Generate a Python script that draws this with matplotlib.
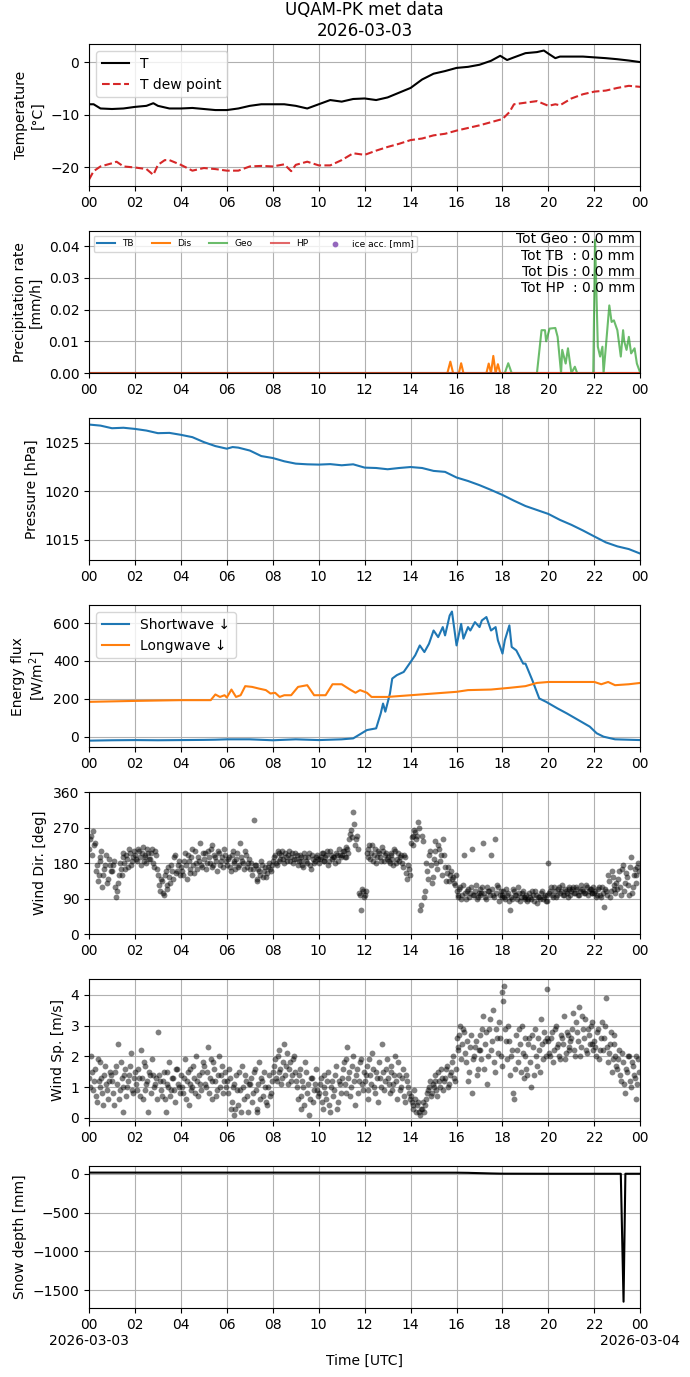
import numpy as np
import pandas as pd
import matplotlib
matplotlib.use("Agg")
import matplotlib.pyplot as plt
import matplotlib.dates as mdates

day = pd.Timestamp("2026-03-03")

# temperature (hours, degC)
t_hours = [0, 0.2, 0.5, 1, 1.5, 2, 2.5, 2.8, 3, 3.5, 4, 4.5, 5, 5.5, 6, 6.5, 7, 7.5, 8, 8.5,
           9, 9.5, 10, 10.5, 11, 11.5, 12, 12.5, 13, 13.5, 14, 14.5, 15, 15.5, 16, 16.5, 17,
           17.5, 17.9, 18.2, 18.5, 19, 19.5, 19.8, 20, 20.3, 20.5, 21, 21.5, 22, 22.5, 23, 23.5, 24]
temp = [-8.0, -8.0, -8.8, -8.9, -8.8, -8.5, -8.3, -7.8, -8.3, -8.8, -8.8, -8.7, -8.9, -9.1,
        -9.1, -8.8, -8.3, -8.0, -8.0, -8.0, -8.3, -8.8, -8.0, -7.2, -7.5, -7.0, -6.9, -7.2,
        -6.7, -5.8, -4.9, -3.3, -2.2, -1.7, -1.1, -0.9, -0.5, 0.25, 1.2, 0.4, 0.9, 1.7, 1.9,
        2.2, 1.6, 0.75, 1.05, 1.05, 1.05, 0.9, 0.75, 0.55, 0.3, 0.0]

td_hours = [0, 0.2, 0.5, 1, 1.2, 1.5, 2, 2.5, 2.8, 3, 3.3, 3.5, 4, 4.5, 5, 5.5, 6, 6.5, 7, 7.5,
            8, 8.5, 8.8, 9, 9.5, 10, 10.5, 11, 11.5, 12, 12.5, 13, 13.5, 14, 14.5, 15, 15.5, 16,
            16.5, 17, 17.5, 18, 18.3, 18.5, 19, 19.5, 20, 20.3, 20.5, 21, 21.5, 22, 22.5, 23, 23.5, 24]
tdew = [-22.3, -20.7, -19.8, -19.2, -18.9, -19.8, -20.0, -20.3, -21.4, -19.5, -18.6, -18.6,
        -19.5, -20.6, -20.1, -20.3, -20.6, -20.6, -19.8, -19.7, -19.8, -19.4, -20.7, -19.5,
        -18.9, -19.6, -19.6, -18.6, -17.3, -17.6, -16.8, -16.1, -15.5, -14.8, -14.5, -13.9,
        -13.6, -13.0, -12.5, -12.0, -11.4, -10.8, -9.5, -8.0, -7.7, -7.4, -8.3, -8.0, -8.2,
        -6.9, -6.1, -5.6, -5.4, -4.9, -4.5, -4.7]

# precipitation rate (mm/h)
geo_hours = [0, 18.1, 18.25, 18.4, 19.5, 19.7, 19.85, 19.9, 20.05, 20.3, 20.4, 20.55, 20.6, 20.75,
             20.85, 21.0, 21.15, 21.25, 21.35, 21.95, 22.03, 22.15, 22.25, 22.35, 22.4, 22.5,
             22.65, 22.75, 22.85, 23.0, 23.15, 23.25, 23.3, 23.4, 23.5, 23.6, 23.75, 23.85, 24]
geo = [0, 0, 0.0031, 0, 0, 0.0135, 0.0135, 0.010, 0.014, 0.0142, 0.0114, 0, 0.0073, 0.003,
       0.0078, 0, 0.002, 0, 0, 0, 0.042, 0.0083, 0.0052, 0.0083, 0, 0.0083, 0.0213, 0.0161,
       0.0166, 0.0135, 0.0052, 0.0135, 0.010, 0.0073, 0.0114, 0.0062, 0.0078, 0.003, 0]
dis_hours = [0, 15.6, 15.73, 15.85, 16.1, 16.2, 16.3, 17.3, 17.4, 17.5, 17.6, 17.7, 17.8, 17.9, 24]
dis = [0, 0, 0.0036, 0, 0, 0.0031, 0, 0, 0.003, 0, 0.0054, 0, 0.0028, 0, 0]
tb_hours = [0, 24]
tb = [0, 0]
hp_hours = [0, 24]
hp = [0, 0]
ice_hours = []
ice = []
totals = {"Geo": 0.0, "TB ": 0.0, "Dis": 0.0, "HP ": 0.0}

# pressure (hPa)
p_hours = [0, 0.5, 1, 1.5, 2, 2.5, 3, 3.5, 4, 4.5, 5, 5.5, 6, 6.25, 6.5, 7, 7.5, 8, 8.5, 9, 9.5,
           10, 10.5, 11, 11.5, 12, 12.5, 13, 13.5, 14, 14.5, 15, 15.5, 16, 16.5, 17, 17.5, 18,
           18.5, 19, 19.5, 20, 20.5, 21, 21.5, 22, 22.5, 23, 23.5, 24]
pres = [1026.88, 1026.77, 1026.5, 1026.55, 1026.43, 1026.26, 1025.99, 1026.02, 1025.82, 1025.58,
        1025.07, 1024.66, 1024.39, 1024.56, 1024.5, 1024.2, 1023.63, 1023.43, 1023.09, 1022.85,
        1022.78, 1022.75, 1022.8, 1022.68, 1022.78, 1022.44, 1022.4, 1022.27, 1022.4, 1022.5,
        1022.4, 1022.1, 1022.0, 1021.42, 1021.06, 1020.63, 1020.14, 1019.62, 1019.03, 1018.48,
        1018.07, 1017.66, 1017.05, 1016.54, 1015.96, 1015.34, 1014.73, 1014.32, 1014.04, 1013.57]

# radiation (W/m2)
sw_hours = [0, 1, 2, 3, 4, 5, 5.5, 6, 7, 8, 9, 10, 11, 11.5, 12.1, 12.5, 12.7, 12.8, 12.9, 13.1,
            13.2, 13.4, 13.7, 13.9, 14.2, 14.4, 14.6, 14.8, 15.0, 15.2, 15.4, 15.5, 15.7, 15.8,
            16.0, 16.2, 16.3, 16.5, 16.6, 16.8, 17.0, 17.1, 17.3, 17.5, 17.7, 17.8, 18.0, 18.1,
            18.3, 18.4, 18.6, 18.9, 19.0, 19.3, 19.6, 19.9, 20.4, 20.8, 21.3, 21.8, 22.1, 22.4,
            22.9, 24]
sw = [-21, -19, -18, -19, -18, -17, -16, -14, -14, -19, -14, -18, -14, -9, 35, 44, 123, 175, 132,
      228, 307, 325, 342, 377, 430, 482, 447, 491, 561, 526, 579, 535, 640, 661, 482, 596, 518,
      579, 561, 605, 579, 614, 632, 561, 579, 509, 439, 509, 588, 474, 456, 386, 386, 298, 202,
      184, 149, 123, 88, 53, 18, 0, -14, -18]
lw_hours = [0, 2, 4, 5.3, 5.5, 5.7, 5.9, 6.0, 6.2, 6.4, 6.6, 6.8, 7.1, 7.4, 7.7, 7.9, 8.1, 8.3,
            8.5, 8.8, 9.1, 9.5, 9.8, 10.3, 10.6, 11.0, 11.4, 11.6, 11.8, 12.1, 12.3, 13, 14, 15,
            16, 16.5, 17.5, 18.3, 19, 19.5, 20, 21, 22, 22.3, 22.6, 22.9, 23.5, 24]
lw = [184, 189, 193, 193, 223, 210, 219, 207, 249, 210, 219, 267, 263, 254, 246, 228, 232, 210,
      219, 219, 263, 272, 219, 219, 277, 277, 246, 232, 246, 232, 210, 210, 219, 228, 237, 246,
      249, 258, 267, 284, 289, 289, 289, 277, 289, 272, 277, 284]

# wind, 5 minute samples (one row per hour), plus a second set offset by 2.5 min
wdir = [
    [215, 250, 262, 230, 175, 150, 195, 120, 165, 200, 140, 175],
    [160, 185, 95, 130, 180, 150, 205, 165, 190, 215, 175, 195],
    [200, 185, 210, 175, 220, 195, 180, 205, 190, 215, 170, 200],
    [150, 110, 135, 100, 160, 125, 145, 175, 140, 200, 160, 185],
    [170, 150, 205, 140, 185, 165, 215, 155, 180, 195, 230, 170],
    [190, 165, 210, 180, 225, 175, 195, 160, 205, 185, 170, 200],
    [175, 195, 160, 210, 180, 190, 170, 230, 185, 165, 200, 180],
    [165, 150, 290, 175, 135, 160, 185, 145, 170, 155, 180, 160],
    [185, 200, 175, 205, 190, 210, 180, 195, 200, 185, 205, 190],
    [190, 175, 200, 185, 170, 195, 180, 205, 165, 190, 185, 200],
    [180, 195, 205, 185, 200, 175, 210, 190, 195, 205, 185, 200],
    [200, 210, 195, 215, 240, 265, 310, 225, 250, 105, 60, 110],
    [100, 205, 215, 190, 225, 200, 180, 210, 195, 220, 185, 205],
    [195, 180, 205, 175, 210, 190, 185, 200, 170, 195, 140, 165],
    [230, 250, 265, 240, 285, 60, 250, 95, 180, 140, 210, 130],
    [190, 235, 165, 215, 200, 240, 170, 155, 135, 160, 145, 125],
    [110, 95, 120, 100, 200, 90, 115, 105, 215, 100, 125, 95],
    [115, 105, 230, 95, 120, 110, 200, 100, 240, 125, 85, 110],
    [100, 95, 115, 105, 60, 90, 110, 100, 120, 85, 105, 95],
    [95, 85, 105, 90, 100, 110, 80, 95, 105, 90, 100, 85],
    [180, 110, 100, 120, 95, 115, 105, 125, 100, 110, 95, 115],
    [110, 120, 105, 115, 100, 125, 110, 105, 120, 110, 115, 105],
    [105, 95, 115, 100, 120, 70, 110, 150, 95, 160, 125, 105],
    [115, 160, 100, 175, 130, 145, 100, 195, 120, 165, 150, 180],
]
wdir_b = [
    [240, 200, 225, 160, 135, 185, 210, 150, 175, 130, 190, 160],
    [175, 120, 110, 150, 165, 195, 180, 200, 170, 205, 185, 210],
    [190, 215, 195, 205, 185, 200, 215, 190, 205, 180, 210, 165],
    [125, 140, 105, 150, 115, 170, 130, 160, 195, 155, 175, 150],
    [160, 185, 175, 200, 155, 195, 175, 210, 165, 185, 175, 205],
    [205, 180, 195, 215, 170, 200, 185, 210, 175, 195, 215, 185],
    [190, 170, 200, 185, 165, 205, 175, 195, 180, 210, 170, 190],
    [180, 165, 175, 140, 165, 150, 175, 160, 145, 170, 165, 175],
    [195, 180, 210, 185, 200, 190, 205, 185, 210, 195, 180, 205],
    [200, 185, 195, 175, 205, 185, 195, 175, 200, 180, 195, 190],
    [190, 205, 185, 195, 210, 185, 200, 195, 180, 200, 215, 195],
    [210, 195, 220, 205, 255, 245, 280, 240, 215, 100, 115, 95],
    [110, 195, 225, 205, 185, 215, 195, 205, 185, 210, 200, 190],
    [185, 200, 190, 215, 180, 205, 195, 180, 200, 155, 175, 150],
    [245, 225, 260, 250, 270, 75, 235, 110, 160, 200, 175, 145],
    [210, 180, 225, 185, 150, 200, 135, 170, 150, 140, 130, 150],
    [100, 115, 90, 125, 105, 110, 95, 120, 100, 110, 90, 105],
    [100, 120, 105, 90, 110, 100, 115, 95, 105, 120, 100, 95],
    [110, 90, 100, 85, 95, 115, 100, 90, 105, 95, 110, 90],
    [100, 90, 95, 110, 85, 100, 95, 90, 110, 95, 85, 100],
    [105, 120, 95, 110, 100, 120, 110, 100, 115, 105, 120, 100],
    [115, 105, 120, 100, 110, 115, 105, 125, 100, 115, 105, 120],
    [110, 100, 120, 95, 105, 115, 100, 135, 110, 145, 115, 130],
    [140, 120, 165, 110, 155, 125, 170, 105, 150, 130, 170, 160],
]
wspd = [
    [1.3, 2.0, 0.9, 1.6, 0.5, 1.2, 1.8, 0.8, 1.4, 1.1, 0.6, 1.5],
    [1.2, 0.4, 1.7, 2.4, 0.9, 1.3, 0.2, 1.6, 1.0, 1.4, 2.1, 0.8],
    [1.5, 0.9, 1.3, 2.2, 0.6, 1.7, 1.1, 0.2, 1.4, 1.9, 1.0, 1.3],
    [2.8, 1.2, 0.7, 1.5, 0.2, 1.1, 1.8, 0.9, 1.3, 0.5, 1.6, 1.0],
    [1.4, 0.8, 1.9, 1.2, 0.4, 1.6, 1.0, 1.3, 2.0, 0.7, 1.1, 1.5],
    [1.7, 1.0, 2.3, 1.3, 0.6, 1.8, 1.2, 0.9, 2.0, 1.4, 0.8, 1.5],
    [1.2, 1.6, 0.3, 1.0, 0.1, 1.4, 0.4, 0.9, 1.7, 0.6, 1.2, 0.2],
    [1.1, 0.5, 1.5, 0.9, 0.2, 1.8, 1.3, 0.7, 1.0, 0.4, 1.4, 0.8],
    [1.5, 1.9, 1.2, 2.2, 1.6, 1.3, 2.4, 1.7, 1.1, 1.8, 1.4, 2.0],
    [1.2, 0.6, 1.6, 0.3, 1.0, 1.8, 0.8, 0.1, 1.3, 0.5, 1.1, 0.9],
    [0.8, 1.3, 0.3, 1.0, 0.6, 1.5, 0.2, 1.2, 0.9, 1.7, 0.5, 1.1],
    [1.3, 1.8, 0.8, 2.3, 1.5, 1.0, 2.0, 0.4, 1.6, 1.2, 1.9, 0.9],
    [1.2, 1.7, 0.6, 1.4, 2.1, 1.0, 1.5, 0.5, 1.3, 2.4, 0.9, 1.6],
    [1.3, 0.8, 1.7, 1.1, 2.0, 0.6, 1.4, 1.0, 1.6, 0.5, 1.2, 0.8],
    [0.7, 0.4, 0.9, 0.2, 0.5, 0.1, 0.3, 0.2, 0.6, 0.9, 1.2, 0.8],
    [1.0, 1.4, 0.7, 1.2, 1.6, 0.9, 1.3, 1.7, 1.1, 1.5, 2.0, 1.2],
    [2.6, 2.2, 3.0, 2.4, 2.8, 1.8, 1.2, 2.3, 0.8, 2.0, 2.5, 1.6],
    [2.7, 1.9, 3.3, 2.4, 1.1, 2.9, 2.2, 3.5, 1.5, 2.6, 3.1, 2.0],
    [4.1, 4.3, 2.5, 3.0, 1.4, 2.2, 0.6, 2.7, 1.8, 2.4, 3.0, 1.3],
    [2.0, 1.4, 2.6, 1.0, 2.3, 2.9, 1.7, 2.2, 3.2, 1.9, 2.5, 4.2],
    [2.5, 2.0, 2.8, 2.2, 3.0, 2.4, 1.9, 2.6, 3.3, 2.1, 2.7, 2.3],
    [2.6, 3.4, 2.0, 2.8, 3.6, 2.3, 2.9, 3.2, 2.1, 2.7, 3.0, 2.4],
    [2.5, 2.0, 2.9, 2.2, 3.1, 2.6, 3.9, 1.8, 2.4, 1.5, 2.7, 2.0],
    [1.6, 2.2, 1.2, 1.8, 0.8, 1.5, 2.0, 1.0, 1.7, 1.3, 0.6, 1.9],
]
wspd_b = [
    [1.0, 1.5, 1.2, 0.7, 1.9, 1.0, 1.3, 0.4, 1.7, 0.9, 1.2, 1.4],
    [0.8, 1.5, 1.1, 0.6, 1.8, 1.0, 1.4, 0.7, 1.2, 1.7, 0.9, 1.3],
    [1.1, 1.6, 0.7, 1.3, 1.8, 0.9, 1.2, 1.5, 0.8, 1.4, 1.1, 0.6],
    [1.4, 0.9, 1.2, 0.6, 1.5, 1.0, 0.7, 1.3, 0.9, 1.6, 1.1, 0.8],
    [1.0, 1.3, 0.6, 1.5, 1.1, 0.9, 1.7, 0.8, 1.2, 1.4, 0.9, 1.8],
    [1.1, 1.5, 0.8, 1.9, 1.2, 1.6, 0.7, 1.4, 1.0, 1.7, 1.2, 1.0],
    [0.8, 1.3, 0.5, 1.1, 0.3, 0.9, 1.5, 0.2, 1.0, 1.4, 0.7, 1.1],
    [1.3, 0.8, 1.6, 0.3, 1.1, 0.6, 1.2, 1.5, 0.5, 1.0, 0.7, 1.2],
    [1.7, 1.3, 2.0, 1.5, 1.1, 1.8, 1.4, 2.1, 1.6, 1.2, 1.9, 1.5],
    [1.0, 1.4, 0.7, 1.2, 0.4, 1.5, 1.1, 0.6, 1.3, 0.9, 1.6, 0.7],
    [1.1, 0.5, 1.4, 0.8, 1.2, 0.4, 1.0, 0.7, 1.4, 0.3, 1.2, 0.8],
    [1.6, 1.1, 1.9, 1.3, 0.7, 1.7, 1.2, 1.4, 0.8, 1.8, 1.1, 1.5],
    [1.4, 0.9, 1.9, 1.1, 1.6, 0.8, 1.3, 1.8, 1.0, 1.5, 1.2, 1.9],
    [1.1, 1.5, 0.9, 1.4, 1.2, 1.8, 0.9, 1.3, 0.7, 1.4, 1.0, 0.6],
    [0.5, 0.3, 0.6, 0.4, 0.2, 0.3, 0.5, 0.4, 0.8, 1.0, 0.7, 1.1],
    [1.2, 0.9, 1.5, 1.0, 1.3, 1.2, 1.6, 1.0, 1.4, 1.8, 1.3, 1.6],
    [2.3, 2.7, 1.9, 2.9, 2.1, 2.5, 1.5, 2.7, 1.9, 2.3, 1.4, 2.2],
    [2.2, 2.9, 1.6, 2.8, 2.0, 3.2, 2.5, 1.8, 2.9, 2.1, 2.6, 1.7],
    [3.8, 2.9, 1.9, 2.5, 2.0, 0.8, 1.6, 2.2, 2.9, 1.5, 2.1, 2.6],
    [1.6, 2.4, 1.8, 2.7, 1.4, 2.0, 2.6, 1.5, 2.4, 2.8, 2.0, 2.6],
    [2.1, 2.6, 1.8, 2.9, 2.3, 2.0, 2.7, 2.4, 1.9, 2.8, 2.2, 2.5],
    [2.9, 2.2, 3.1, 2.5, 2.0, 3.3, 2.6, 2.2, 2.9, 2.4, 3.1, 2.2],
    [2.3, 2.8, 1.9, 2.6, 2.2, 3.0, 2.3, 2.1, 2.8, 1.9, 2.4, 1.7],
    [1.9, 1.4, 2.1, 1.1, 1.6, 2.0, 1.2, 1.8, 1.4, 2.0, 1.1, 1.5],
]

# snow depth (mm)
sd_hours = [0, 8, 16, 16.5, 17, 17.5, 18, 20, 23.15, 23.27, 23.35, 24]
snow = [18, 18, 17, 15, 11, 7, 4, 3, 3, -1650, 3, 3]


def to_time(hours):
    return day + pd.to_timedelta(np.asarray(hours, dtype=float), unit="h")


w_minutes = np.arange(24 * 12) * 5.0
w_time = day + pd.to_timedelta(w_minutes, unit="min")
w_time_b = day + pd.to_timedelta(w_minutes + 2.5, unit="min")

fig, axes = plt.subplots(7, 1, figsize=(6.9, 13.77), dpi=100)
fig.subplots_adjust(left=0.129, right=0.928, top=0.968, bottom=0.050, hspace=0.317)

# temperature
ax = axes[0]
ax.plot(to_time(t_hours), temp, color="k", label="T")
ax.plot(to_time(td_hours), tdew, color="tab:red", ls="--", label="T dew point")
ax.set_ylabel("Temperature\n[°C]")
ax.legend(loc="upper left")
ax.set_title("UQAM-PK met data\n2026-03-03")

# precipitation
ax = axes[1]
ax.plot(to_time(tb_hours), tb, color="tab:blue", label="TB")
ax.plot(to_time(dis_hours), dis, color="tab:orange", label="Dis")
ax.plot(to_time(geo_hours), geo, color="tab:green", alpha=0.7, label="Geo")
ax.plot(to_time(hp_hours), hp, color="tab:red", alpha=0.7, label="HP")
ax.scatter(to_time(ice_hours), ice, color="tab:purple", s=10, label="ice acc. [mm]")
ax.set_ylim(0, 0.0447)
ax.set_ylabel("Precipitation rate\n[mm/h]")
ax.legend(loc="upper left", ncol=5, fontsize=6.5)
txt = "\n".join(f"Tot {k} : {v:.1f} mm" for k, v in totals.items())
ax.text(0.99, 0.99, txt, transform=ax.transAxes, ha="right", va="top", fontsize=10,
        multialignment="right")

# pressure
ax = axes[2]
ax.plot(to_time(p_hours), pres, color="tab:blue")
ax.set_ylabel("Pressure [hPa]")

# radiation
ax = axes[3]
ax.plot(to_time(sw_hours), sw, color="tab:blue", label="Shortwave ↓")
ax.plot(to_time(lw_hours), lw, color="tab:orange", label="Longwave ↓")
ax.set_ylabel("Energy flux\n[W/m$^2$]")
ax.legend(loc="upper left")

# wind direction
ax = axes[4]
for tt, vals in [(w_time, wdir), (w_time_b, wdir_b)]:
    ax.plot(tt, np.ravel(vals), "o", color="k", alpha=0.5, ms=4.2, mec="none")
ax.set_ylim(0, 360)
ax.set_yticks([0, 90, 180, 270, 360])
ax.set_ylabel("Wind Dir. [deg]")

# wind speed
ax = axes[5]
for tt, vals in [(w_time, wspd), (w_time_b, wspd_b)]:
    ax.plot(tt, np.ravel(vals), "o", color="k", alpha=0.5, ms=4.2, mec="none")
ax.set_ylabel("Wind Sp. [m/s]")

# snow depth
ax = axes[6]
ax.plot(to_time(sd_hours), snow, color="k")
ax.set_ylabel("Snow depth [mm]")
ax.set_xlabel("Time [UTC]")

for ax in axes:
    ax.set_xlim(day, day + pd.Timedelta(hours=24))
    ax.xaxis.set_major_locator(mdates.HourLocator(byhour=range(0, 24, 2)))
    ax.xaxis.set_major_formatter(mdates.DateFormatter("%H"))
    ax.grid(True)


def bottom_fmt(x, pos=None):
    d = mdates.num2date(x)
    if d.hour == 0:
        return d.strftime("%H\n%Y-%m-%d")
    return d.strftime("%H")


axes[6].xaxis.set_major_formatter(plt.FuncFormatter(bottom_fmt))

fig.savefig("out.png", dpi=100)
